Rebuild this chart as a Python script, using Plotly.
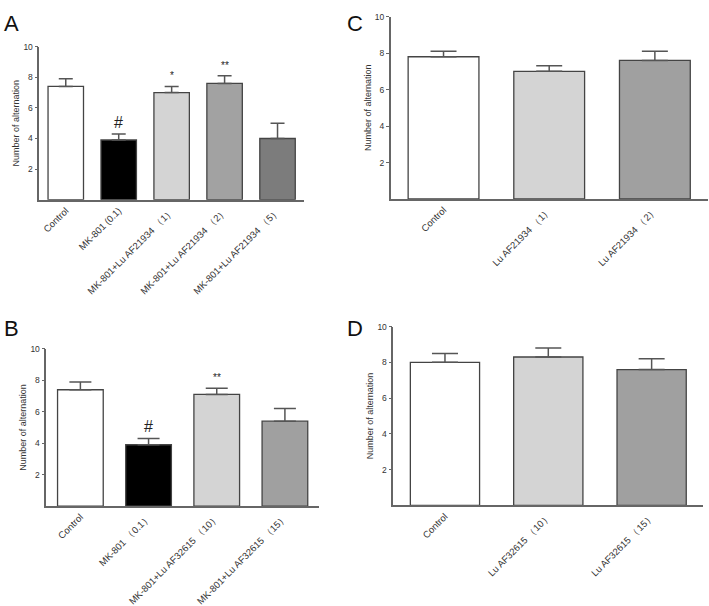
import plotly.graph_objects as go

W, H = 709, 606

# ---- data ----
cats_A = ["Control", "MK-801 (0.1)", "MK-801+Lu AF21934 （1）", "MK-801+Lu AF21934 （2）", "MK-801+Lu AF21934 （5）"]
vals_A = [7.4, 3.9, 7.0, 7.6, 4.0]
sem_A = [0.5, 0.4, 0.4, 0.5, 1.0]
sig_A = ["", "#", "*", "**", ""]

cats_B = ["Control", "MK-801 （0.1）", "MK-801+Lu AF32615 （10）", "MK-801+Lu AF32615 （15）"]
vals_B = [7.4, 3.9, 7.1, 5.4]
sem_B = [0.5, 0.4, 0.4, 0.8]
sig_B = ["", "#", "**", ""]

cats_C = ["Control", "Lu AF21934 （1）", "Lu AF21934 （2）"]
vals_C = [7.8, 7.0, 7.6]
sem_C = [0.3, 0.3, 0.5]

cats_D = ["Control", "Lu AF32615 （10）", "Lu AF32615 （15）"]
vals_D = [8.0, 8.3, 7.6]
sem_D = [0.5, 0.5, 0.6]

y_ticks = [2, 4, 6, 8, 10]
y_title = "Number of alternation"

# ---- styling ----
colors_A = ["#ffffff", "#000000", "#d4d4d4", "#a2a2a2", "#7c7c7c"]
colors_B = ["#ffffff", "#000000", "#d4d4d4", "#a0a0a0"]
colors_C = ["#ffffff", "#d4d4d4", "#a0a0a0"]
colors_D = ["#ffffff", "#d4d4d4", "#a0a0a0"]

FONT = "Arial, Liberation Sans, sans-serif"
AX = "#666666"

def px_x(p):
    return p / W

def px_y(p):
    return 1 - p / H

panels = [
    ("A", cats_A, vals_A, sem_A, colors_A, sig_A, 39.3, 304, 43, 201, 7, (2, 4)),
    ("C", cats_C, vals_C, sem_C, colors_C, None, 390.7, 707.7, 12, 200.3, 13, (345, 4)),
    ("B", cats_B, vals_B, sem_B, colors_B, sig_B, 46.3, 319, 355, 517.3, 11, (2, 319)),
    ("D", cats_D, vals_D, sem_D, colors_D, None, 393.3, 703.3, 332, 516.7, 13, (345, 319)),
]

fig = go.Figure()
layout = dict(
    width=W, height=H, margin=dict(l=0, r=0, t=0, b=0),
    paper_bgcolor="white", plot_bgcolor="white", showlegend=False,
    font=dict(family=FONT, color="#333333"),
)
annotations = []

for i, (letter, cats, vals, sem, cols, sig, x0, x1, yt, yb, capw, lpos) in enumerate(panels):
    n = i + 1
    xa = "x" if n == 1 else f"x{n}"
    ya = "y" if n == 1 else f"y{n}"
    fig.add_trace(go.Bar(
        x=cats, y=vals, xaxis=xa, yaxis=ya, width=0.67,
        marker=dict(color=cols, line=dict(color="#444444", width=1.3)),
        error_y=dict(type="data", array=sem, arrayminus=[0] * len(sem), symmetric=False,
                     color="#555555", thickness=1.5, width=capw),
        hoverinfo="skip",
    ))
    xkey = "xaxis" if n == 1 else f"xaxis{n}"
    ykey = "yaxis" if n == 1 else f"yaxis{n}"
    layout[xkey] = dict(
        domain=[px_x(x0), px_x(x1)], anchor=ya, type="category",
        categoryorder="array", categoryarray=cats,
        range=[-0.5, len(cats) - 0.5], showgrid=False, zeroline=False,
        showline=True, linecolor=AX, linewidth=1.5, ticks="",
        tickangle=-45, tickfont=dict(size=9.5, color="#333333", family=FONT),
        fixedrange=True,
    )
    layout[ykey] = dict(
        domain=[px_y(yb), px_y(yt)], anchor=xa, range=[0, 10],
        tickvals=y_ticks, ticks="outside", ticklen=3, tickcolor=AX, tickwidth=1.2,
        showgrid=False, zeroline=False, showline=True, linecolor=AX, linewidth=1.5,
        tickfont=dict(size=8.5, color="#333333", family=FONT),
        title=dict(text=y_title, font=dict(size=9, color="#333333", family=FONT), standoff=2),
        fixedrange=True,
    )
    if sig:
        for c, v, e, s in zip(cats, vals, sem, sig):
            if s:
                annotations.append(dict(
                    x=c, y=v + e, xref=xa, yref=ya, text=s, showarrow=False,
                    yanchor="bottom", yshift=1 if s == "#" else 3,
                    font=dict(size=16 if s == "#" else 10, color="#222222", family=FONT),
                ))
    annotations.append(dict(
        x=px_x(lpos[0]), y=px_y(lpos[1]), xref="paper", yref="paper",
        xanchor="left", yanchor="top", text=letter, showarrow=False,
        font=dict(size=22, color="#111111", family=FONT),
    ))

layout["annotations"] = annotations
fig.update_layout(**layout)
fig.write_html("out.html", config={"displayModeBar": False},
               post_script="document.body.style.margin='0';document.body.style.overflow='hidden';")
